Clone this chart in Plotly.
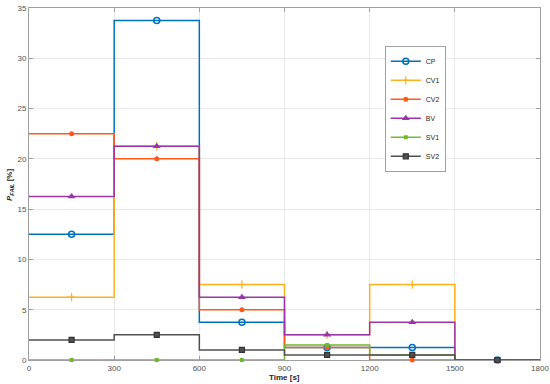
import plotly.graph_objects as go

# Data
time_edges = [0, 300, 600, 900, 1200, 1500, 1800]
mid_times = [150, 450, 750, 1050, 1350, 1650]
series_names = ["CP", "CV1", "CV2", "BV", "SV1", "SV2"]
cp = [12.5, 33.75, 3.75, 1.25, 1.25, 0]
cv1 = [6.25, 21.25, 7.5, 2.5, 7.5, 0]
cv2 = [22.5, 20.0, 5.0, 1.25, 0, 0]
bv = [16.25, 21.25, 6.25, 2.5, 3.75, 0]
sv1 = [0, 0, 0, 1.5, 0.5, 0]
sv2 = [2.0, 2.5, 1.0, 0.5, 0.5, 0]
y_ticks = [0, 5, 10, 15, 20, 25, 30, 35]
x_ticks = [0, 300, 600, 900, 1200, 1500, 1800]

values = [cp, cv1, cv2, bv, sv1, sv2]
colors = ["#0072BD", "#FFB01E", "#FF5A1A", "#9B35A8", "#6DBB2B", "#505050"]
markers = [
    dict(symbol="circle-open", size=6, line=dict(width=1.6)),
    dict(symbol="cross-thin-open", size=6, line=dict(width=1.2)),
    dict(symbol="circle", size=5),
    dict(symbol="triangle-up", size=7),
    dict(symbol="square", size=4),
    dict(symbol="square", size=5, line=dict(width=1.2, color="#333333")),
]

fig = go.Figure()
for name, vals, col, mk in zip(series_names, values, colors, markers):
    mk = dict(mk)
    mk["color"] = col
    if "line" in mk and "color" not in mk["line"]:
        mk["line"] = dict(mk["line"], color=col)
    fig.add_trace(go.Scatter(
        x=time_edges, y=vals + [vals[-1]], mode="lines", line=dict(color=col, width=1.5, shape="hv"),
        showlegend=False, hoverinfo="skip", cliponaxis=False))
    fig.add_trace(go.Scatter(
        x=mid_times, y=vals, mode="markers", marker=mk, showlegend=False, cliponaxis=False))
    fig.add_trace(go.Scatter(
        x=[None], y=[None], mode="lines+markers", name=name,
        line=dict(color=col, width=1.5), marker=mk, showlegend=True))

fig.update_layout(
    width=550, height=384,
    margin=dict(l=29, r=10, t=8, b=24, autoexpand=False),
    paper_bgcolor="white", plot_bgcolor="white",
    font=dict(family="Liberation Sans, Arial, sans-serif", size=8, color="#505050"),
    legend=dict(
        x=(385 - 29) / 511, y=(360 - 46) / 352, xanchor="left", yanchor="top",
        bgcolor="white", bordercolor="#8a8a8a", borderwidth=0.8,
        font=dict(size=7, color="#262626"), itemwidth=30, tracegroupgap=0,
    ),
    xaxis=dict(
        range=[0, 1800], tickvals=x_ticks, showgrid=True, gridcolor="#e8e8e8", gridwidth=0.8,
        showline=True, linecolor="#a0a0a0", linewidth=1, mirror="ticks", automargin=False,
        ticks="inside", ticklen=4, tickcolor="#a0a0a0", zeroline=False, layer="below traces",
    ),
    yaxis=dict(
        range=[0, 35], tickvals=y_ticks, showgrid=True, gridcolor="#e8e8e8", gridwidth=0.8,
        showline=True, linecolor="#a0a0a0", linewidth=1, mirror="ticks", automargin=False,
        ticks="inside", ticklen=4, tickcolor="#a0a0a0", zeroline=False, layer="below traces",
    ),
    annotations=[
        dict(text="<b>Time [s]</b>", xref="paper", yref="paper", x=0.5, y=-(378 - 360) / 352,
             xanchor="center", yanchor="middle", showarrow=False,
             font=dict(size=8, color="#262626")),
        dict(text="<b><i>P</i><sub><i>FAIL</i></sub> [%]</b>", xref="paper", yref="paper",
             x=-(29 - 10) / 511, y=(360 - 185) / 352, textangle=-90,
             xanchor="center", yanchor="middle", showarrow=False,
             font=dict(size=8, color="#262626")),
    ],
)

fig.write_html("out.html", config={"displayModeBar": False},
               post_script="document.body.style.margin='0';document.body.style.padding='0';")
